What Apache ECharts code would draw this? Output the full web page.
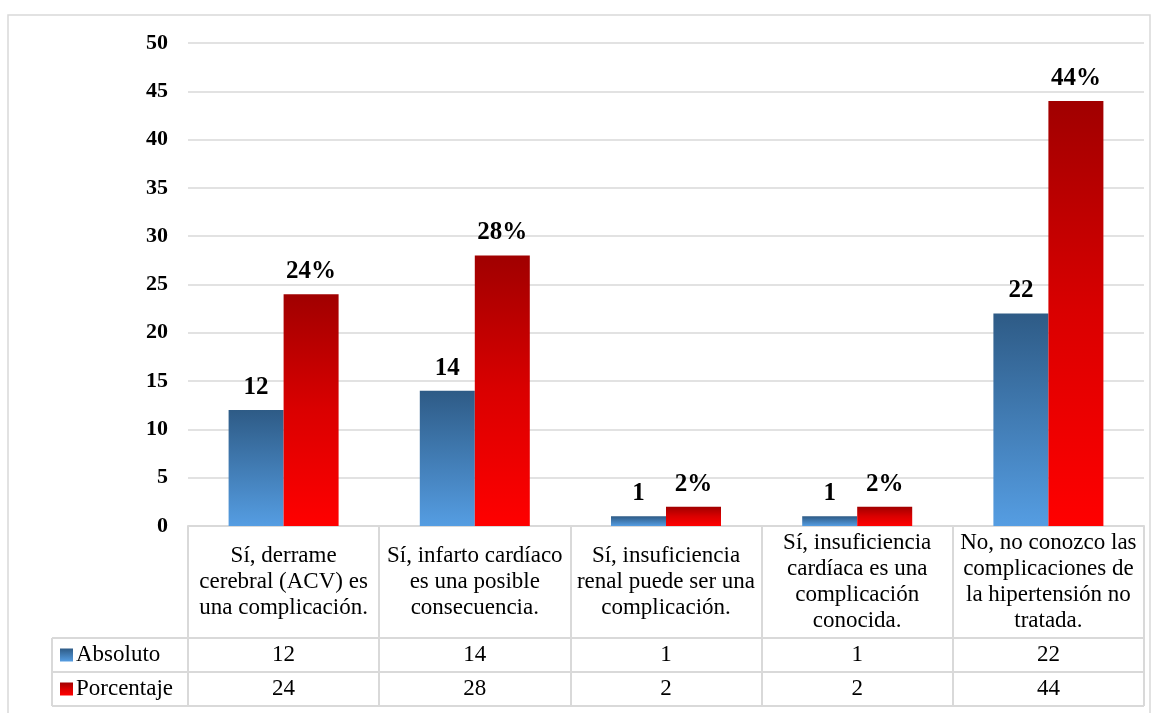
<!DOCTYPE html>
<html>
<head>
<meta charset="utf-8">
<script src="https://cdn.jsdelivr.net/npm/echarts@6/dist/echarts.min.js"></script>
<style>
html,body{margin:0;padding:0;background:#fff;}
#c{width:1153px;height:713px;}
</style>
</head>
<body>
<div id="c"></div>
<script>
const categories = [
  'Sí, derrame\ncerebral (ACV) es\nuna complicación.',
  'Sí, infarto cardíaco\nes una posible\nconsecuencia.',
  'Sí, insuficiencia\nrenal puede ser una\ncomplicación.',
  'Sí, insuficiencia\ncardíaca es una\ncomplicación\nconocida.',
  'No, no conozco las\ncomplicaciones de\nla hipertensión no\ntratada.'
];
const absoluto = [12, 14, 1, 1, 22];
const porcentaje = [24, 28, 2, 2, 44];
const seriesNames = ['Absoluto', 'Porcentaje'];
const yTicks = [0, 5, 10, 15, 20, 25, 30, 35, 40, 45, 50];

const FONT = '"Liberation Serif", "Times New Roman", serif';
const blueGrad = new echarts.graphic.LinearGradient(0, 0, 0, 1, [
  {offset: 0, color: '#2E5B86'}, {offset: 1, color: '#559DE2'}]);
const redGrad = new echarts.graphic.LinearGradient(0, 0, 0, 1, [
  {offset: 0, color: '#A00000'}, {offset: 0.5, color: '#DA0000'}, {offset: 1, color: '#FF0000'}]);

const chart = echarts.init(document.getElementById('c'), null, {renderer: 'canvas'});
const GRID = {left: 188, right: 9, top: 43, bottom: 187};
chart.setOption({
  animation: false,
  backgroundColor: '#fff',
  grid: GRID,
  xAxis: {
    type: 'category',
    data: categories,
    axisLine: {show: true, lineStyle: {color: '#D9D9D9', width: 2}},
    axisTick: {show: true, length: 180, lineStyle: {color: '#D9D9D9', width: 2}},
    axisLabel: {
      interval: 0, margin: 56, verticalAlign: 'middle',
      fontFamily: FONT, fontSize: 23, color: '#000', lineHeight: 26, align: 'center'
    }
  },
  yAxis: {
    type: 'value', min: yTicks[0], max: yTicks[yTicks.length - 1], interval: 5,
    axisLine: {show: false}, axisTick: {show: false},
    splitLine: {lineStyle: {color: '#D9D9D9', width: 1.5}},
    axisLabel: {fontFamily: FONT, fontSize: 22, fontWeight: 'bold', color: '#000', margin: 20}
  },
  series: [
    {
      name: seriesNames[0], type: 'bar', data: absoluto, barWidth: 55, barGap: '0%',
      itemStyle: {color: blueGrad},
      label: {show: true, position: 'top', distance: 10, fontFamily: FONT, fontSize: 25, fontWeight: 'bold', color: '#000'}
    },
    {
      name: seriesNames[1], type: 'bar', data: porcentaje, barWidth: 55, barGap: '0%',
      itemStyle: {color: redGrad},
      label: {show: true, position: 'top', distance: 10, formatter: '{c}%', fontFamily: FONT, fontSize: 25, fontWeight: 'bold', color: '#000'}
    }
  ]
});

// Data table under the axis, positioned from the chart's own scales
const x0 = chart.convertToPixel({xAxisIndex: 0}, 0);
const x1 = chart.convertToPixel({xAxisIndex: 0}, 1);
const band = x1 - x0;
const leftEdge = x0 - band / 2;
const rightEdge = leftEdge + band * categories.length;
const y0 = chart.convertToPixel({yAxisIndex: 0}, 0);
const headerH = 112, rowH = 34, legendColX = 52;
const row1Top = y0 + headerH, row2Top = row1Top + rowH, row3Top = row2Top + rowH;
const lineStyle = {stroke: '#D9D9D9', lineWidth: 2};
const g = [];
g.push({type: 'rect', shape: {x: 8, y: 15, width: 1142, height: 710}, style: {fill: null, stroke: '#D9D9D9', lineWidth: 1.5}, silent: true});
[row1Top, row2Top, row3Top].forEach(y => g.push({type: 'line', shape: {x1: legendColX, y1: y, x2: rightEdge, y2: y}, style: lineStyle}));
g.push({type: 'line', shape: {x1: legendColX, y1: row1Top, x2: legendColX, y2: row3Top}, style: lineStyle});
const rows = [absoluto, porcentaje];
const grads = [blueGrad, redGrad];
rows.forEach((vals, r) => {
  const cy = row1Top + rowH * r + rowH / 2;
  g.push({type: 'rect', shape: {x: 60, y: cy - 6.5, width: 13, height: 13}, style: {fill: grads[r]}});
  g.push({type: 'text', x: 76, y: cy, style: {text: seriesNames[r], font: '23px ' + FONT, fill: '#000', textVerticalAlign: 'middle', textAlign: 'left'}});
  vals.forEach((v, i) => {
    const cx = chart.convertToPixel({xAxisIndex: 0}, i);
    g.push({type: 'text', x: cx, y: cy, style: {text: String(v), font: '23px ' + FONT, fill: '#000', textVerticalAlign: 'middle', textAlign: 'center'}});
  });
});
chart.setOption({graphic: g});
</script>
</body>
</html>
